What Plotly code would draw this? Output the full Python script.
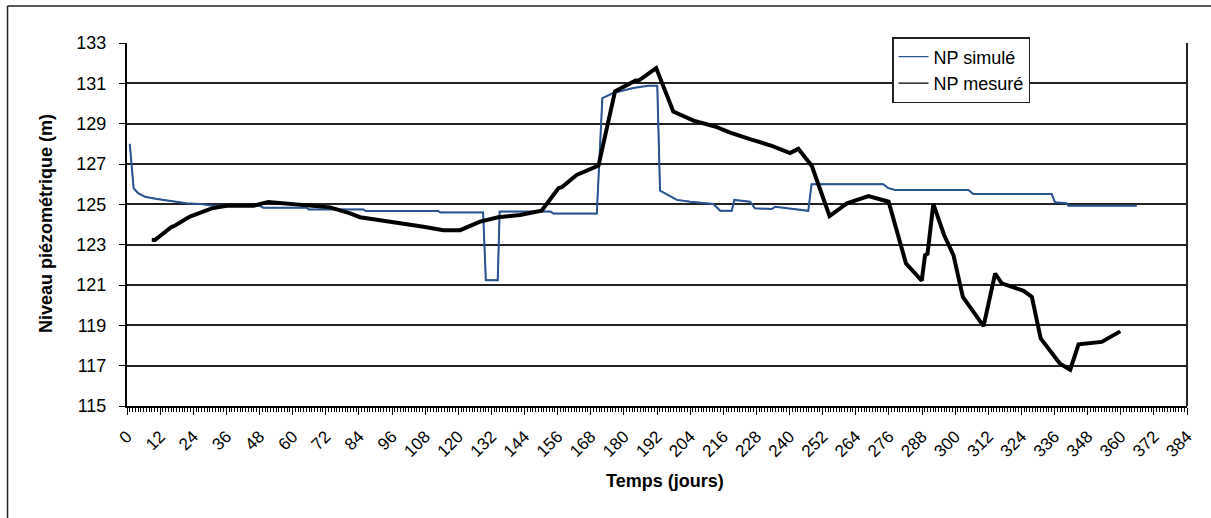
import plotly.graph_objects as go

# Simulated piezometric level (NP simulé): day, level (m)
sim_day = [1, 2.4, 4, 6.5, 10.8, 16.8, 21.6, 27.6, 31, 48, 49.4, 65, 65.8, 85.6, 86.5,
           112.7, 113.5, 129, 130, 134.3, 135, 153.5, 154.5, 170.2, 172.2, 176.2,
           183.4, 188.8, 192.1, 193.1, 199.2, 204, 212.4, 214.9, 219.1, 220, 225.7,
           227.5, 233.6, 234.8, 240.2, 246.8, 248.0, 274, 275.8, 278.3, 304.8, 306.6,
           335, 336.2, 340.4, 341, 365.8]
sim_level = [128.0, 125.8, 125.55, 125.38, 125.27, 125.13, 125.05, 125.0, 124.93, 124.93,
             124.83, 124.83, 124.75, 124.75, 124.67, 124.67, 124.6, 124.6, 121.24, 121.24,
             124.64, 124.64, 124.54, 124.54, 130.27, 130.52, 130.77, 130.88, 130.88,
             125.68, 125.22, 125.13, 125.02, 124.68, 124.68, 125.22, 125.13, 124.8,
             124.77, 124.88, 124.8, 124.68, 126.0, 126.0, 125.8, 125.71, 125.71, 125.51,
             125.51, 125.1, 125.05, 124.93, 124.93]

# Measured piezometric level (NP mesuré): day, level (m)
mes_day = [9, 10.1, 16.2, 17, 22.8, 25.2, 30.7, 36.1, 45.8, 51.2, 56.6, 65.1, 73.6, 80.8,
           84.4, 92.9, 98.9, 107.4, 114.6, 120.7, 127.9, 134.5, 142.4, 150.2, 156.3,
           157.5, 162.9, 170.8, 176.8, 184.1, 185.5, 191.7, 197.9, 205.2, 213.0, 218.5,
           225.7, 233.6, 240.2, 243.2, 248.1, 254.5, 260.8, 268.6, 275.9, 282.2, 287.9,
           289.1, 290, 292.1, 296, 299.4, 302.8, 310.3, 314.5, 316.9, 324.8, 327.8,
           331.0, 338.0, 341.7, 344.7, 353.1, 359.8]
mes_level = [123.23, 123.23, 123.89, 123.92, 124.39, 124.5, 124.8, 124.93, 124.93, 125.12,
             125.05, 124.92, 124.85, 124.55, 124.36, 124.19, 124.08, 123.89, 123.72, 123.72,
             124.14, 124.36, 124.47, 124.68, 125.8, 125.85, 126.46, 126.92, 130.6, 131.13,
             131.15, 131.76, 129.6, 129.15, 128.86, 128.56, 128.23, 127.9, 127.54, 127.75,
             126.9, 124.42, 125.05, 125.41, 125.13, 122.07, 121.21, 122.48, 122.55, 125.02,
             123.48, 122.48, 120.41, 118.96, 121.57, 121.08, 120.71, 120.41, 118.35, 117.1,
             116.8, 118.06, 118.18, 118.7]

FONT = "Liberation Sans, Arial, sans-serif"
BLUE = "#2B5591"

fig = go.Figure()
# thin copies underneath carry the legend entries (legend keys use a fine line)
fig.add_trace(go.Scatter(x=sim_day, y=sim_level, mode="lines", name="NP simulé",
                         line=dict(color=BLUE, width=1.2)))
fig.add_trace(go.Scatter(x=mes_day, y=mes_level, mode="lines", name="NP mesuré",
                         line=dict(color="#000000", width=1.2)))
# the visible series
fig.add_trace(go.Scatter(x=sim_day, y=sim_level, mode="lines", showlegend=False,
                         line=dict(color=BLUE, width=2)))
fig.add_trace(go.Scatter(x=mes_day, y=mes_level, mode="lines", showlegend=False,
                         line=dict(color="#000000", width=4)))

# chart frame (top and left edges) and right border of the plot area
frame = dict(color="#222222", width=1.5)
fig.add_shape(type="line", xref="paper", yref="paper", x0=-0.1127, x1=1.03,
              y0=1.1019, y1=1.1019, line=frame)
fig.add_shape(type="line", xref="paper", yref="paper", x0=-0.1127, x1=-0.1127,
              y0=1.1019, y1=-0.33, line=frame)
fig.add_shape(type="line", xref="paper", yref="paper", x0=1, x1=1,
              y0=0, y1=1, line=dict(color="#222222", width=2))

fig.add_annotation(text="<b>Niveau piézométrique (m)</b>", xref="paper", yref="paper",
                   x=(46 - 127) / 1060, y=(406 - 224) / 363, textangle=-90,
                   showarrow=False, font=dict(family=FONT, size=18, color="black"),
                   xanchor="center", yanchor="middle")
fig.add_annotation(text="<b>Temps (jours)</b>", xref="paper", yref="paper",
                   x=(665 - 127) / 1060, y=(406 - 481) / 363,
                   showarrow=False, font=dict(family=FONT, size=18, color="black"),
                   xanchor="center", yanchor="middle")

fig.update_layout(
    width=1211, height=518,
    margin=dict(l=127, r=24, t=43, b=112),
    paper_bgcolor="white", plot_bgcolor="white",
    font=dict(family=FONT, size=18, color="black"),
    legend=dict(x=(892 - 127) / 1060, y=(406 - 37) / 363, xanchor="left", yanchor="top",
                bgcolor="white", bordercolor="#222222", borderwidth=1.5,
                entrywidth=100, entrywidthmode="pixels",
                font=dict(family=FONT, size=18, color="black")),
    showlegend=True,
)
fig.update_xaxes(range=[0, 384], tick0=0, dtick=12, tickangle=-45,
                 showgrid=False, zeroline=False,
                 showline=True, linecolor="black", linewidth=2,
                 ticks="outside", ticklen=7, tickwidth=1, tickcolor="black",
                 tickfont=dict(family=FONT, size=17, color="black"),
                 ticklabelstandoff=5,
                 minor=dict(dtick=1, tick0=0, ticks="outside", ticklen=4,
                            tickwidth=1, tickcolor="black", showgrid=False))
fig.update_yaxes(range=[115, 133], tick0=115, dtick=2,
                 showgrid=True, gridcolor="#222222", gridwidth=1.5, zeroline=False,
                 showline=True, linecolor="black", linewidth=2,
                 ticks="outside", ticklen=6, tickwidth=1, tickcolor="black",
                 tickfont=dict(family=FONT, size=18, color="black"),
                 ticklabelstandoff=9)

fig.write_html("out.html")
